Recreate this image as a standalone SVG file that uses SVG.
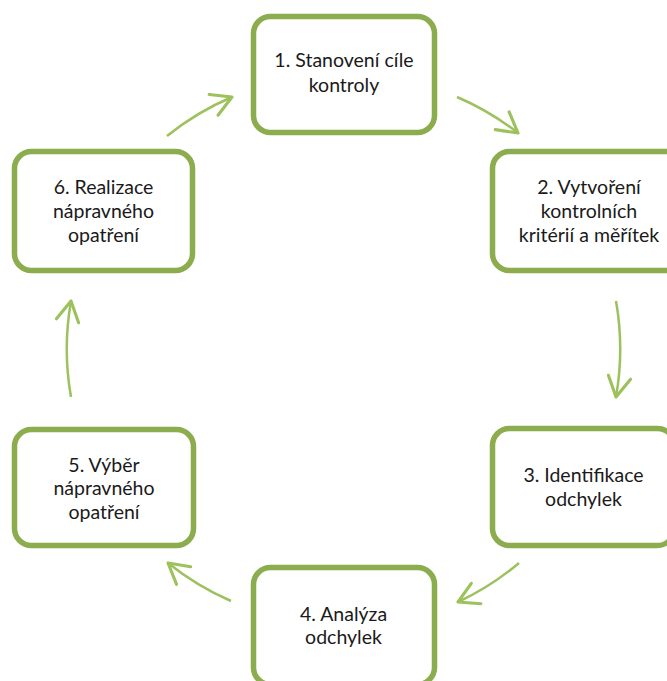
<svg xmlns="http://www.w3.org/2000/svg" width="667" height="681" viewBox="0 0 667 681">
<style>
.box{fill:#ffffff;stroke:#8BAD4E;stroke-width:5.5}
.lbl{font-family:"Lato","Liberation Sans",sans-serif;font-size:19.5px;fill:#1a1a1a;text-anchor:middle}
.arc{fill:none;stroke:#9DC15C;stroke-width:2.5;marker-end:url(#ah)}
</style>
<defs>
<marker id="ah" markerUnits="userSpaceOnUse" markerWidth="30" markerHeight="30" refX="0" refY="0" viewBox="-20 -12 24 24" orient="auto" overflow="visible">
<path d="M-16,-9 L0,0 L-16,9" fill="none" stroke="#9DC15C" stroke-width="2.5" stroke-linecap="round" stroke-linejoin="round"/>
</marker>
</defs>
<rect width="667" height="681" fill="#ffffff"/>
<g id="connectors">
<path class="arc" d="M457,97 A276,276 0 0 1 518,133"/>
<path class="arc" d="M616,301 A276,276 0 0 1 616,397"/>
<path class="arc" d="M519,563 A276,276 0 0 1 458,602"/>
<path class="arc" d="M231,601 A276,276 0 0 1 168,563"/>
<path class="arc" d="M71,397 A276,276 0 0 1 71,301"/>
<path class="arc" d="M167,136 A276,276 0 0 1 232,97"/>
</g>
<g id="n1">
<rect class="box" x="253.5" y="16.5" width="181" height="116" rx="17"/>
<text class="lbl" x="344" y="67">1. Stanovení cíle</text>
<text class="lbl" x="344" y="92">kontroly</text>
</g>
<g id="n2">
<rect class="box" x="492.5" y="151.5" width="190" height="119" rx="17"/>
<text class="lbl" x="589" y="193.5">2. Vytvoření</text>
<text class="lbl" x="589" y="217.5">kontrolních</text>
<text class="lbl" x="589" y="241.5">kritérií a měřítek</text>
</g>
<g id="n3">
<rect class="box" x="492.5" y="428.5" width="182" height="117" rx="17"/>
<text class="lbl" x="583.5" y="481.5">3. Identifikace</text>
<text class="lbl" x="583.5" y="506">odchylek</text>
</g>
<g id="n4">
<rect class="box" x="253.5" y="567.5" width="181" height="117" rx="17"/>
<text class="lbl" x="343.5" y="621">4. Analýza</text>
<text class="lbl" x="343.5" y="644">odchylek</text>
</g>
<g id="n5">
<rect class="box" x="14.5" y="429.5" width="179" height="116" rx="17"/>
<text class="lbl" x="104" y="471.5">5. Výběr</text>
<text class="lbl" x="104" y="495">nápravného</text>
<text class="lbl" x="104" y="518.5">opatření</text>
</g>
<g id="n6">
<rect class="box" x="14.5" y="151.5" width="178" height="119" rx="17"/>
<text class="lbl" x="103.5" y="194">6. Realizace</text>
<text class="lbl" x="103.5" y="217.5">nápravného</text>
<text class="lbl" x="103.5" y="241.5">opatření</text>
</g>
</svg>
